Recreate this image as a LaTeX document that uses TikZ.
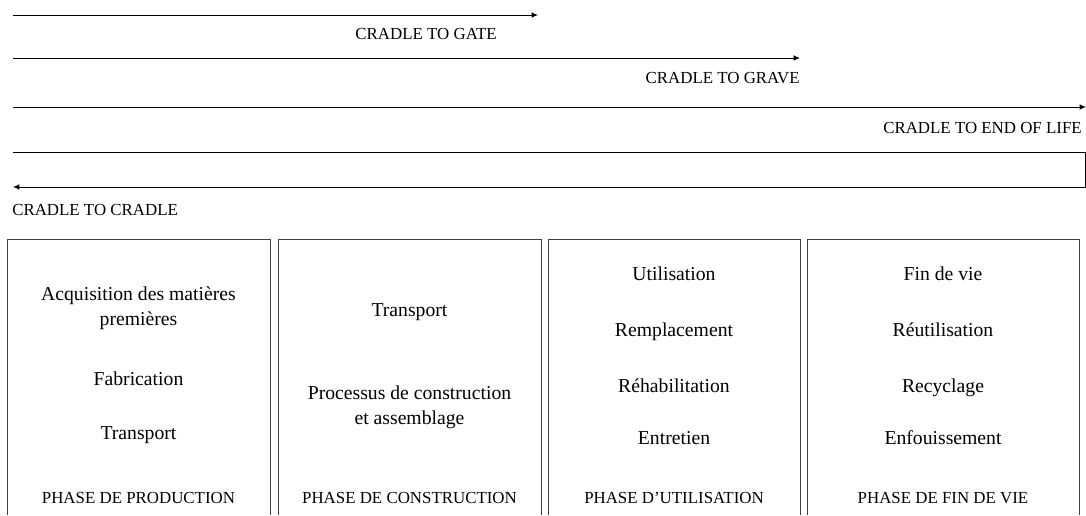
\documentclass[tikz,border=0pt]{standalone}
\usepackage{fontspec}
\setmainfont{Liberation Serif}
\usetikzlibrary{arrows.meta}

\tikzset{
  span/.style={line width=0.7pt, -{Latex[length=4.5pt, width=4pt]}},
  spanlabel/.style={font=\fontsize{12}{14}\selectfont, inner sep=0pt},
  phasebox/.style={draw=black!75, line width=0.6pt},
  stage/.style={font=\fontsize{14}{17.5}\selectfont, align=center, inner sep=0pt},
  phaselabel/.style={font=\fontsize{12}{14}\selectfont, inner sep=0pt}
}

\begin{document}
\begin{tikzpicture}[x=0.025cm, y=-0.025cm]
      \useasboundingbox (0,0) rectangle (1086,515);

      % Life cycle spans
      \coordinate (o1) at (13,15);   \coordinate (gate) at (538,15);
      \coordinate (o2) at (13,58);   \coordinate (grave) at (800,58);
      \coordinate (o3) at (13,107);  \coordinate (eol) at (1086,107);
      \coordinate (o4) at (13,152);  \coordinate (back) at (13,187);
      \coordinate (c1) at (1085,152); \coordinate (c2) at (1085,187);

      \draw[span] (o1) -- (gate);
      \draw[span] (o2) -- (grave);
      \draw[span] (o3) -- (eol);
      \draw[span] (o4) -- (c1) -- (c2) -- (back);

      \node[spanlabel, anchor=east] (lgate) at (497,34) {CRADLE TO GATE};
      \node[spanlabel, anchor=east] (lgrave) at (800,78) {CRADLE TO GRAVE};
      \node[spanlabel, anchor=east] (leol) at (1082,128) {CRADLE TO END OF LIFE};
      \node[spanlabel, anchor=west] (lcradle) at (12,210) {CRADLE TO CRADLE};

      % Phase boxes (open at the bottom)
      \foreach \a/\b in {7/270, 278/541, 548/800, 807/1079} {
        \draw[phasebox] (\a,515) |- (\b,239) -- (\b,515);
      }

      % Production
      \node[stage] (acq) at (138.5,308) {Acquisition des matières\\premières};
      \node[stage] (fab) at (138.5,379) {Fabrication};
      \node[stage] (trp1) at (138.5,435) {Transport};
      \node[phaselabel] (prod) at (138.5,498) {PHASE DE PRODUCTION};

      % Construction
      \node[stage] (trp2) at (409.5,312) {Transport};
      \node[stage] (proc) at (409.5,407) {Processus de construction\\et assemblage};
      \node[phaselabel] (constr) at (409.5,498) {PHASE DE CONSTRUCTION};

      % Use
      \node[stage] (use) at (674,274) {Utilisation};
      \node[stage] (repl) at (674,332) {Remplacement};
      \node[stage] (rehab) at (674,386) {Réhabilitation};
      \node[stage] (maint) at (674,438) {Entretien};
      \node[phaselabel] (usage) at (674,498) {PHASE D’UTILISATION};

      % End of life
      \node[stage] (end) at (943,274) {Fin de vie};
      \node[stage] (reuse) at (943,330) {Réutilisation};
      \node[stage] (recyc) at (943,388) {Recyclage};
      \node[stage] (landfill) at (943,438) {Enfouissement};
      \node[phaselabel] (endlife) at (943,498) {PHASE DE FIN DE VIE};
\end{tikzpicture}
\end{document}
